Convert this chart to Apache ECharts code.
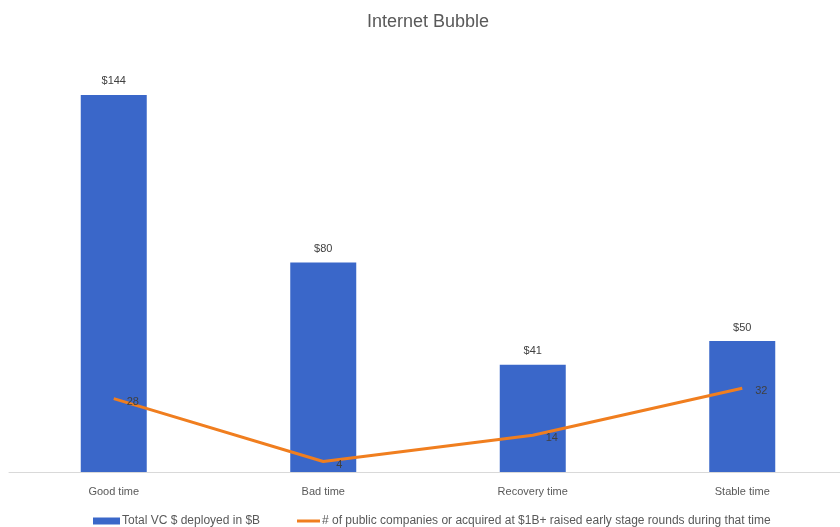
<!DOCTYPE html>
<html>
<head>
<meta charset="utf-8">
<script src="https://cdn.jsdelivr.net/npm/echarts@6/dist/echarts.min.js"></script>
<style>html,body{margin:0;padding:0;background:#fff;overflow:hidden;}#c{width:848px;height:527px;}</style>
</head>
<body>
<div id="c"></div>
<script>
const categories = ['Good time', 'Bad time', 'Recovery time', 'Stable time'];
const vcDeployed = [144, 80, 41, 50];
const companies = [28, 4, 14, 32];
const barName = 'Total VC $ deployed in $B';
const lineName = '# of public companies or acquired at $1B+ raised early stage rounds during that time';

const chart = echarts.init(document.getElementById('c'));
const font = 'Liberation Sans';
chart.setOption({
  animation: false,
  title: {
    text: 'Internet Bubble', left: 362, top: 8,
    textStyle: { fontFamily: font, fontSize: 18, fontWeight: 'normal', color: '#595959' }
  },
  legend: [
    { data: [{ name: barName, icon: 'rect' }], left: 93, top: 515, padding: 0, itemWidth: 27, itemHeight: 7, itemGap: 4,
      textStyle: { fontFamily: font, fontSize: 12, color: '#595959', padding: [0, 0, 0, -3] } },
    { data: [{ name: lineName, icon: 'rect' }], left: 297, top: 515, padding: 0, itemWidth: 23, itemHeight: 3,
      textStyle: { fontFamily: font, fontSize: 12, color: '#595959', padding: [0, 0, 0, -3] } }
  ],
  grid: { left: 9, right: 1, top: 53, bottom: 55 },
  xAxis: {
    type: 'category', data: categories,
    axisLine: { lineStyle: { color: '#d9d9d9', width: 1 } },
    axisTick: { show: false },
    axisLabel: { fontFamily: font, fontSize: 11, color: '#595959', margin: 14 }
  },
  yAxis: { type: 'value', min: 0, max: 160, show: false, splitLine: { show: false } },
  series: [
    {
      name: barName, type: 'bar', data: vcDeployed, barWidth: 66,
      itemStyle: { color: '#3a67c9' },
      label: { show: true, position: 'top', distance: 8, formatter: '${c}', fontFamily: font, fontSize: 11, color: '#404040' }
    },
    {
      name: lineName, type: 'line', data: companies,
      symbol: 'circle', symbolSize: 0,
      lineStyle: { color: '#f07e1f', width: 3 },
      itemStyle: { color: '#f07e1f' },
      label: { show: true, position: 'right', distance: 13, offset: [0, 3], fontFamily: font, fontSize: 11, color: '#404040' }
    }
  ]
});
</script>
</body>
</html>
